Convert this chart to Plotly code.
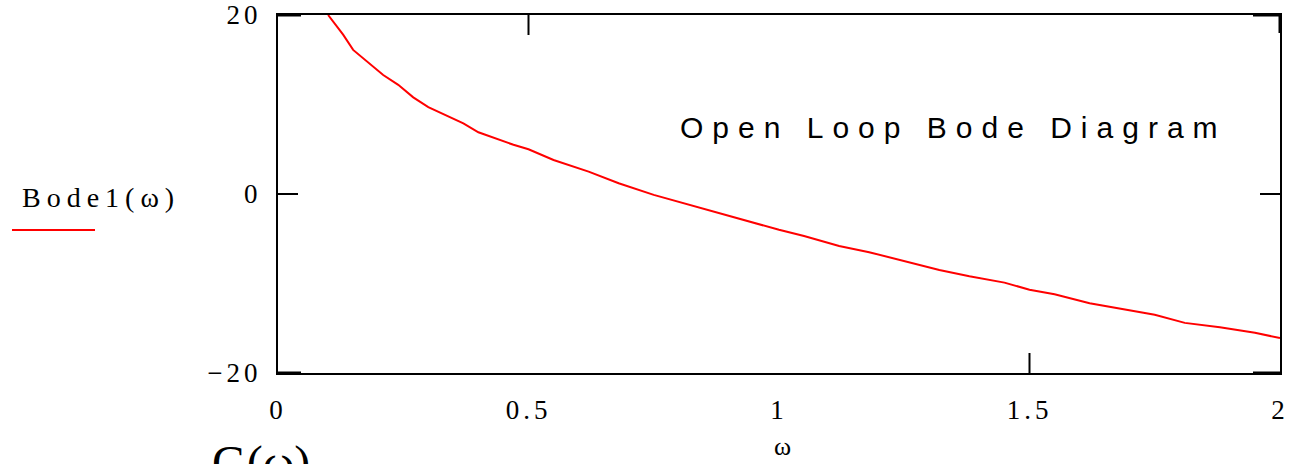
import plotly.graph_objects as go

# Data
omega = [0.10, 0.13, 0.15, 0.18, 0.21, 0.24, 0.27, 0.30, 0.34, 0.37, 0.40, 0.44,
         0.47, 0.50, 0.55, 0.62, 0.68, 0.75, 0.82, 0.88, 0.95, 1.00, 1.05, 1.12,
         1.18, 1.25, 1.32, 1.38, 1.45, 1.50, 1.55, 1.62, 1.68, 1.75, 1.81, 1.88,
         1.95, 2.00]
bode1 = [20.0, 17.8, 16.1, 14.7, 13.3, 12.2, 10.8, 9.7, 8.7, 7.9, 6.9, 6.1,
         5.5, 5.0, 3.8, 2.5, 1.2, -0.1, -1.2, -2.1, -3.2, -4.0, -4.7, -5.8,
         -6.5, -7.5, -8.5, -9.2, -9.9, -10.7, -11.2, -12.2, -12.8, -13.5, -14.4, -14.9,
         -15.5, -16.1]

x_ticks = [0, 0.5, 1, 1.5, 2]
x_tick_labels = ["0", "0.5", "1", "1.5", "2"]
y_ticks = [-20, 0, 20]
y_tick_labels = ["\u221220", "0", "20"]

SERIF = "Liberation Serif, Times New Roman, serif"
SANS = "Liberation Sans, Arial, sans-serif"


def spaced(t, px):
    return '<span style="letter-spacing:%dpx">%s</span>' % (px, t)


fig = go.Figure()
fig.add_trace(go.Scatter(x=omega, y=bode1, mode="lines",
                         line=dict(color="#ff0000", width=2),
                         showlegend=False, cliponaxis=True))

axis_common = dict(showgrid=False, zeroline=False, showline=True, mirror=True,
                   linecolor="black", linewidth=2, ticks="", automargin=False,
                   ticklabeloverflow="allow",
                   tickfont=dict(family=SERIF, size=27, color="black"))

fig.update_layout(
    width=1294, height=464,
    margin=dict(l=278, r=14, t=15, b=91),
    paper_bgcolor="white", plot_bgcolor="white",
    xaxis=dict(range=[0, 2], tickvals=x_ticks,
               ticktext=[spaced(t, 4) for t in x_tick_labels],
               ticklabelstandoff=12, **axis_common),
    yaxis=dict(range=[-20, 20], tickvals=y_ticks,
               ticktext=[spaced(t, 4) for t in y_tick_labels],
               ticklabelstandoff=9, **axis_common),
)

tick_style = dict(type="line", line=dict(color="black", width=2))
# inward tick marks (pixel-length)
fig.add_shape(xref="x", yref="y", xsizemode="pixel", xanchor=0, x0=0, x1=20, y0=0, y1=0, **tick_style)
fig.add_shape(xref="x", yref="y", xsizemode="pixel", xanchor=2, x0=-20, x1=0, y0=0, y1=0, **tick_style)
fig.add_shape(xref="x", yref="y", ysizemode="pixel", yanchor=20, y0=0, y1=-20, x0=0.5, x1=0.5, **tick_style)
fig.add_shape(xref="x", yref="y", ysizemode="pixel", yanchor=-20, y0=0, y1=20, x0=1.5, x1=1.5, **tick_style)
fig.add_shape(xref="x", yref="y", ysizemode="pixel", yanchor=20, y0=0, y1=-18, x0=2, x1=2,
              type="line", line=dict(color="black", width=3))
# corner ticks (thicker segments on the frame)
fig.add_shape(xref="x", yref="y", xsizemode="pixel", xanchor=0, x0=0, x1=23, y0=20, y1=20,
              type="line", line=dict(color="black", width=3))
fig.add_shape(xref="x", yref="y", xsizemode="pixel", xanchor=0, x0=0, x1=23, y0=-20, y1=-20,
              type="line", line=dict(color="black", width=3))
fig.add_shape(xref="x", yref="y", xsizemode="pixel", xanchor=2, x0=-27, x1=0, y0=20, y1=20,
              type="line", line=dict(color="black", width=3))
fig.add_shape(xref="x", yref="y", xsizemode="pixel", xanchor=2, x0=-27, x1=0, y0=-20, y1=-20,
              type="line", line=dict(color="black", width=3))

# legend-like sample line under the y label
fig.add_shape(type="line", xref="paper", yref="paper", xsizemode="pixel", xanchor=0,
              ysizemode="pixel", yanchor=0.3994, x0=-266, x1=-183, y0=0, y1=0,
              line=dict(color="#ff0000", width=2))

fig.add_annotation(text=spaced("Bode1(\u03c9)", 6), xref="paper", yref="paper",
                   x=-0.2575, y=0.4916, xanchor="left", yanchor="middle", showarrow=False,
                   font=dict(family=SERIF, size=28, color="black"))
fig.add_annotation(text=spaced("Open Loop Bode Diagram", 9),
                   xref="x", yref="y", x=0.798, y=7.4, xanchor="left", yanchor="middle",
                   showarrow=False, font=dict(family=SANS, size=30, color="black"))
fig.add_annotation(text="\u03c9", xref="paper", yref="paper", x=0.503, y=-0.205,
                   xanchor="center", yanchor="middle", showarrow=False,
                   font=dict(family=SERIF, size=26, color="black"))
# partially visible label at the bottom edge (cut off in the reference as well)
fig.add_annotation(text="G(\u03c9)", xref="paper", yref="paper", x=-0.0679, y=-0.17,
                   xanchor="left", yanchor="top", showarrow=False,
                   font=dict(family=SERIF, size=48, color="black"))

fig.write_html("out.html", config={"displayModeBar": False},
               post_script="document.body.style.margin='0';")
